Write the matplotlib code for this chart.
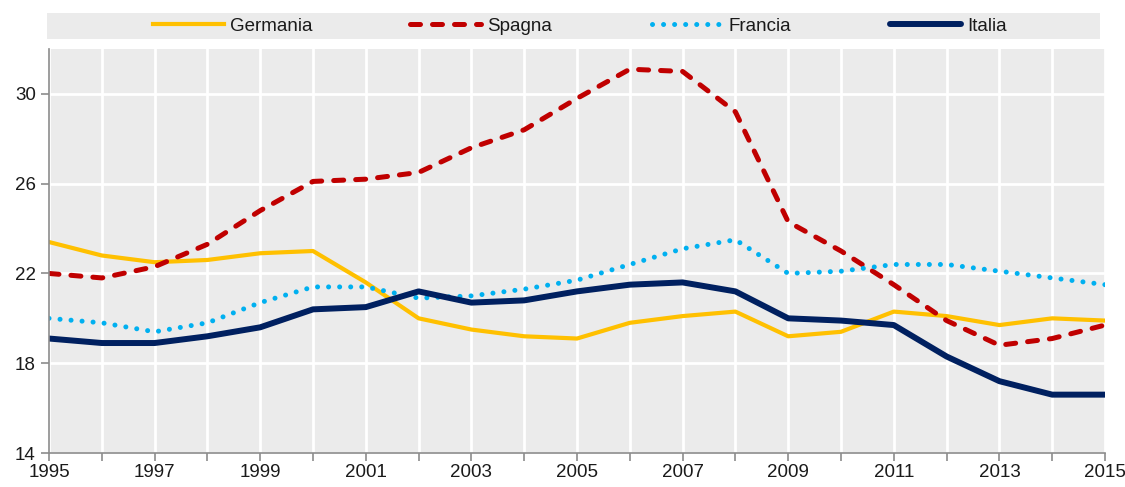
import matplotlib.pyplot as plt
from matplotlib.patches import Rectangle

plt.rcParams['font.family'] = ['Liberation Sans Narrow', 'Liberation Sans', 'DejaVu Sans']

years = list(range(1995, 2016))

germania = [23.4, 22.8, 22.5, 22.6, 22.9, 23.0, 21.6, 20.0, 19.5, 19.2, 19.1,
            19.8, 20.1, 20.3, 19.2, 19.4, 20.3, 20.1, 19.7, 20.0, 19.9]
spagna = [22.0, 21.8, 22.3, 23.3, 24.8, 26.1, 26.2, 26.5, 27.6, 28.4, 29.8,
          31.1, 31.0, 29.2, 24.3, 23.0, 21.5, 19.9, 18.8, 19.1, 19.7]
francia = [20.0, 19.8, 19.4, 19.8, 20.7, 21.4, 21.4, 20.9, 21.0, 21.3, 21.7,
           22.4, 23.1, 23.5, 22.0, 22.1, 22.4, 22.4, 22.1, 21.8, 21.5]
italia = [19.1, 18.9, 18.9, 19.2, 19.6, 20.4, 20.5, 21.2, 20.7, 20.8, 21.2,
          21.5, 21.6, 21.2, 20.0, 19.9, 19.7, 18.3, 17.2, 16.6, 16.6]

y_ticks = [14, 18, 22, 26, 30]

fig = plt.figure(figsize=(11.25, 4.87), dpi=100)
ax = fig.add_axes([49 / 1125, 34 / 487, 1056 / 1125, 404 / 487])
ax.set_facecolor('#EBEBEB')

l1, = ax.plot(years, germania, color='#FFC000', lw=3, label='Germania')
l2, = ax.plot(years, spagna, color='#C00000', lw=3.6, ls=(0, (2.0, 2.4)),
              dash_capstyle='round', label='Spagna')
l3, = ax.plot(years, francia, color='#00B0F0', lw=3.6, ls=(0, (0.01, 2.2)),
              dash_capstyle='round', label='Francia')
l4, = ax.plot(years, italia, color='#002060', lw=4.3, solid_capstyle='round',
              label='Italia')

ax.set_xlim(1995, 2015)
ax.set_ylim(14, 32)
ax.set_xticks(years)
ax.set_xticklabels([str(y) if (y - 1995) % 2 == 0 else '' for y in years])
ax.set_yticks(y_ticks)
ax.grid(True, color='white', lw=2)
ax.set_axisbelow(True)
for s in ['top', 'right']:
    ax.spines[s].set_visible(False)
for s in ['left', 'bottom']:
    ax.spines[s].set_color('#8C8C8C')
    ax.spines[s].set_linewidth(1.2)
ax.tick_params(axis='both', colors='#8C8C8C', labelcolor='#1A1A1A', labelsize=13.5,
               length=6, width=1.2)
ax.tick_params(axis='x', pad=2)

# legend band
fig.patches.append(Rectangle((47 / 1125, 448 / 487), 1053 / 1125, 26 / 487,
                             transform=fig.transFigure, facecolor='#EBEBEB',
                             edgecolor='none', zorder=0))
for line, x0 in zip([l1, l2, l3, l4], [153, 410, 652, 890]):
    leg = fig.legend(handles=[line], loc='center left',
                     bbox_to_anchor=(x0 / 1125, 461 / 487), frameon=False,
                     fontsize=13.5, handlelength=3.8, handletextpad=0.3,
                     borderpad=0, borderaxespad=0)
    for t in leg.get_texts():
        t.set_color('#1A1A1A')

fig.savefig('out.png', dpi=100)
